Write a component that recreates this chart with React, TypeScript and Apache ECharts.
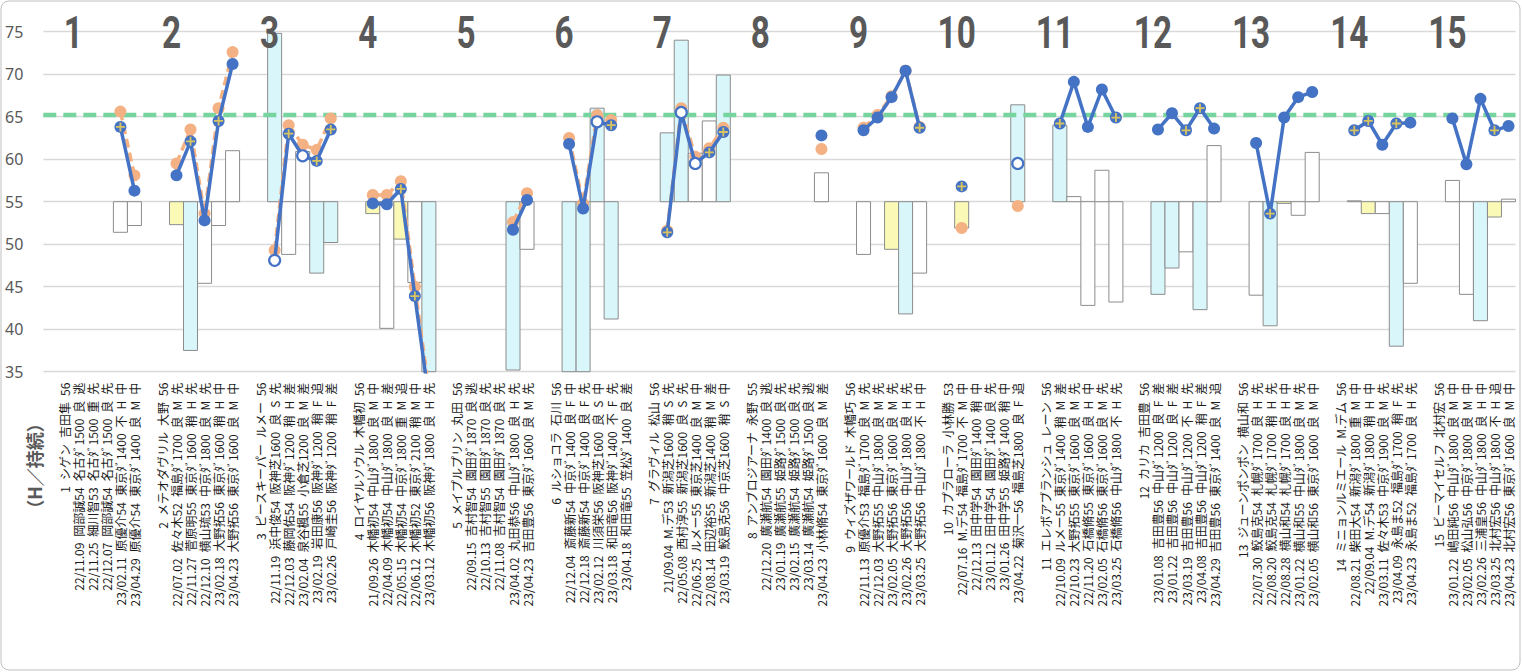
import React, { useEffect, useRef } from 'react';
import * as echarts from 'echarts';

// ---- data ----
const groupNumbers = ['1','2','3','4','5','6','7','8','9','10','11','12','13','14','15'];

const headers = [
  '1 シゲン 吉田隼 56',
  '2 メテオダヴリル 大野 56',
  '3 ピースキーパー ルメー 56',
  '4 ロイヤルソウル 木幡初 56',
  '5 メイプルプリン 丸田 56',
  '6 ルショコラ 石川 56',
  '7 グラヴィル 松山 56',
  '8 アンブロジアーナ 永野 55',
  '9 ウィズザワールド 木幡巧 56',
  '10 カプラローラ 小林勝 53',
  '11 エレボアブランシュ レーン 56',
  '12 カリカ 吉田豊 56',
  '13 ジューンポンポン 横山和 56',
  '14 ミニョンルミエール M.デム 56',
  '15 ビーマイセルフ 北村宏 56',
];

const raceLabels = [
  ['22/11.09 岡部誠54 名古ﾀﾞ1500 良 逃', '22/11.25 細川智53 名古ﾀﾞ1500 重 先', '22/12.07 岡部誠54 名古ﾀﾞ1500 良 先', '23/02.11 原優介54 東京ﾀﾞ1400 不 H 中', '23/04.29 原優介54 東京ﾀﾞ1400 良 M 中'],
  ['22/07.02 佐々木52 福島ﾀﾞ1700 良 M 先', '22/11.27 菅原明55 東京ﾀﾞ1600 稍 H 先', '22/12.10 横山琉53 中京ﾀﾞ1800 良 M 先', '23/02.18 大野拓56 東京ﾀﾞ1600 稍 H 中', '23/04.23 大野拓56 東京ﾀﾞ1600 良 M 中'],
  ['22/11.19 浜中俊54 阪神芝1600 良 S 先', '22/12.03 藤岡佑54 阪神ﾀﾞ1200 稍 H 差', '23/02.04 泉谷楓55 小倉芝1200 良 M 差', '23/02.19 岩田康56 阪神ﾀﾞ1200 稍 F 追', '23/02.26 戸崎圭56 阪神ﾀﾞ1200 稍 F 差'],
  ['21/09.26 木幡初54 中山ﾀﾞ1800 良 M 中', '22/04.09 木幡初54 中山ﾀﾞ1800 良 H 差', '22/05.15 木幡初54 中京ﾀﾞ1800 重 M 追', '22/06.12 木幡初52 東京ﾀﾞ2100 稍 M 中', '23/03.12 木幡初56 阪神ﾀﾞ1800 良 H 先'],
  ['22/09.15 吉村智54 園田ﾀﾞ1870 良 逃', '22/10.13 吉村智55 園田ﾀﾞ1870 良 先', '22/11.08 吉村智54 園田ﾀﾞ1870 良 先', '23/04.02 丸田恭56 中山ﾀﾞ1800 良 H 先', '23/04.23 吉田豊56 東京ﾀﾞ1600 良 M 先'],
  ['22/12.04 斎藤新54 中京ﾀﾞ1400 良 F 中', '22/12.18 斎藤新54 中京ﾀﾞ1400 良 F 先', '23/02.12 川須栄56 阪神芝1600 良 S 中', '23/03.18 和田竜56 阪神ﾀﾞ1400 不 F 先', '23/04.18 和田竜55 笠松ﾀﾞ1400 良 差'],
  ['21/09.04 M.デ53 新潟芝1600 稍 S 先', '22/05.08 西村淳55 新潟芝1600 良 S 先', '22/06.25 ルメー55 東京芝1400 良 M 中', '22/08.14 田辺裕55 新潟芝1400 稍 M 差', '23/03.19 鮫島克56 中京芝1600 稍 S 中'],
  ['22/12.20 廣瀬航54 園田ﾀﾞ1400 良 逃', '23/01.19 廣瀬航55 姫路ﾀﾞ1500 良 先', '23/02.15 廣瀬航54 姫路ﾀﾞ1500 良 先', '23/03.14 廣瀬航54 姫路ﾀﾞ1500 良 逃', '23/04.23 小林脩54 東京ﾀﾞ1600 良 M 差'],
  ['22/11.13 原優介53 福島ﾀﾞ1700 良 M 先', '22/12.03 大野拓55 中山ﾀﾞ1800 良 M 先', '23/02.05 大野拓56 東京ﾀﾞ1600 良 M 先', '23/02.26 大野拓56 中山ﾀﾞ1800 良 H 先', '23/03.25 大野拓56 中山ﾀﾞ1800 不 H 中'],
  ['22/07.16 M.デ54 福島ﾀﾞ1700 不 M 中', '22/12.13 田中学54 園田ﾀﾞ1400 稍 中', '23/01.12 田中学54 園田ﾀﾞ1400 良 先', '23/01.26 田中学55 姫路ﾀﾞ1400 稍 中', '23/04.22 菊沢一56 福島芝1800 良 F 追'],
  ['22/10.09 ルメー55 東京ﾀﾞ1400 稍 M 差', '22/10.23 大野拓55 東京ﾀﾞ1600 良 M 先', '22/11.20 石橋脩55 東京ﾀﾞ1600 良 H 中', '23/02.05 石橋脩56 東京ﾀﾞ1600 良 M 先', '23/03.25 石橋脩56 中山ﾀﾞ1800 不 H 先'],
  ['23/01.08 吉田豊56 中山ﾀﾞ1200 良 F 差', '23/01.22 吉田豊56 中山ﾀﾞ1200 良 F 差', '23/03.19 吉田豊56 中山ﾀﾞ1200 不 H 先', '23/04.08 吉田豊56 中山ﾀﾞ1200 稍 F 差', '23/04.29 吉田豊56 東京ﾀﾞ1400 良 M 追'],
  ['22/07.30 鮫島克54 札幌ﾀﾞ1700 良 H 先', '22/08.20 鮫島克54 札幌ﾀﾞ1700 稍 H 先', '22/08.28 横山和54 札幌ﾀﾞ1700 良 H 中', '23/01.22 横山和55 中山ﾀﾞ1800 良 M 先', '23/02.05 横山和56 東京ﾀﾞ1600 良 M 中'],
  ['22/08.21 柴田大54 新潟ﾀﾞ1800 重 M 中', '22/09.04 M.デ54 新潟ﾀﾞ1800 稍 H 中', '23/03.11 佐々木53 中京ﾀﾞ1900 良 M 先', '23/04.09 永島ま52 福島ﾀﾞ1700 稍 F 先', '23/04.23 永島ま52 福島ﾀﾞ1700 良 H 先'],
  ['23/01.22 嶋田純56 中山ﾀﾞ1800 良 M 中', '23/02.05 松山弘56 中京ﾀﾞ1800 良 M 中', '23/02.26 三浦皇56 中山ﾀﾞ1800 良 H 中', '23/03.25 北村宏56 中山ﾀﾞ1800 不 H 追', '23/04.23 北村宏56 東京ﾀﾞ1600 良 M 中'],
];

const blueVals = [
  [null, null, null, 63.8, 56.3],
  [58.1, 62.1, 52.8, 64.5, 71.2],
  [48.1, 63.0, 60.4, 59.8, 63.5],
  [54.8, 54.7, 56.5, 43.9, 31.8],
  [null, null, null, 51.7, 55.2],
  [61.8, 54.2, 64.4, 64.0, null],
  [51.4, 65.5, 59.5, 60.8, 63.2],
  [null, null, null, null, 62.8],
  [63.4, 64.9, 67.3, 70.4, 63.7],
  [56.8, null, null, null, 59.5],
  [64.2, 69.1, 63.8, 68.2, 64.9],
  [63.5, 65.4, 63.4, 66.0, 63.6],
  [61.9, 53.6, 64.9, 67.3, 67.9],
  [63.4, 64.5, 61.7, 64.2, 64.3],
  [64.8, 59.4, 67.1, 63.4, 63.9],
];

// S = solid, P = plus, H = hollow
const markerKinds = ['---PS', 'SPSPS', 'HPHPP', 'SSPPS', '---SS', 'SSHP-', 'PHHPP', '----S', 'SSSSP', 'P---H', 'PSSSP', 'SSPPS', 'SPSSS', 'PPSPS', 'SSSPS'];

const orangeVals = [
  [null, null, null, 65.6, 58.1],
  [59.5, 63.5, 53.6, 66.0, 72.6],
  [49.3, 64.0, 61.7, 61.1, 64.8],
  [55.8, 55.8, 57.4, 45.0, 32.8],
  [null, null, null, 52.6, 56.0],
  [62.5, 54.8, 65.2, 64.6, null],
  [51.6, 66.0, 60.3, 61.3, 63.7],
  [null, null, null, null, 61.2],
  [63.7, 65.2, 67.4, 70.4, 63.8],
  [51.9, null, null, null, 54.5],
  [null, null, null, null, null],
  [null, null, null, null, null],
  [null, null, null, null, null],
  [null, null, null, null, null],
  [null, null, null, null, null],
];

const barVals = [
  [null, null, null, 51.4, 52.2],
  [52.3, 37.5, 45.4, 52.2, 61.0],
  [74.8, 48.8, 60.9, 46.6, 50.2],
  [53.6, 40.1, 50.6, 45.5, 30.0],
  [null, null, null, 35.2, 49.4],
  [30.0, 30.0, 66.0, 41.2, null],
  [63.1, 74.0, 60.7, 64.5, 69.9],
  [null, null, null, null, 58.4],
  [48.8, null, 49.4, 41.8, 46.6],
  [51.9, null, null, null, 66.4],
  [64.0, 55.6, 42.8, 58.7, 43.2],
  [44.1, 47.2, 49.1, 42.3, 61.6],
  [44.0, 40.4, 54.8, 53.4, 60.8],
  [55.1, 53.6, 53.6, 38.0, 45.4],
  [57.5, 44.1, 41.0, 53.2, 55.3],
];

// C = cyan, W = white, Y = yellow
const barKinds = ['---WW', 'YCWWW', 'CWWCC', 'YWYWC', '---CW', 'CCCC-', 'CCWWC', '----W', 'W-YCW', 'Y---C', 'CWWWW', 'CCWCW', 'WCYWW', 'WYWCW', 'WWCYW'];

const barBase = 55;
const standardValue = 65.2;
const numberRowValue = 75;
const yMin = 35;
const yMax = 78;
const yInterval = 5;
const axisTitle = '（H／持続）';

// ---- build ----
const SLOTS = 7;
const SP = '\u2002';
const spaced = (s: string) => s.split(' ').join(SP);
const categories: string[] = [];
headers.forEach((h, k) => {
  categories.push('');
  categories.push(spaced(h));
  raceLabels[k].forEach((r) => categories.push(spaced(r)));
});
const idxOf = (k: number, j: number) => k * SLOTS + 2 + j;

const BLUE = '#4472c4';
const ORANGE = '#f4b183';

const blueData: any[] = categories.map(() => '-');
const orangeData: any[] = categories.map(() => '-');
const plusData: any[] = [];
const barData: any[] = [];
const kindCode: Record<string, number> = { C: 0, W: 1, Y: 2 };
const barFill = ['#d9f6fb', '#ffffff', '#fafab6'];

for (let k = 0; k < headers.length; k++) {
  for (let j = 0; j < 5; j++) {
    const i = idxOf(k, j);
    const b = blueVals[k][j];
    const mk = markerKinds[k][j];
    if (b !== null) {
      if (mk === 'H') {
        blueData[i] = { value: b, symbolSize: 11, itemStyle: { color: '#ffffff', borderColor: BLUE, borderWidth: 2.2 } };
      } else {
        blueData[i] = { value: b, symbolSize: 12, itemStyle: { color: BLUE, borderWidth: 0 } };
      }
      if (mk === 'P') plusData.push([i, b]);
    }
    const o = orangeVals[k][j];
    if (o !== null) orangeData[i] = o;
    const bv = barVals[k][j];
    if (bv !== null) barData.push([i, bv, kindCode[barKinds[k][j]]]);
  }
}

const numberData = groupNumbers.map((n, k) => [k * SLOTS + 2, numberRowValue]);

const splitColors = [] as string[];
for (let v = yMin; v <= yMax; v += yInterval) splitColors.push('#d9d9d9');
splitColors.push('rgba(0,0,0,0)');

const PLUS_PATH = 'path://M4 0h2v4h4v2h-4v4h-2v-4h-4v-2h4z';

export default function App() {
  const ref = useRef<HTMLDivElement>(null);
  useEffect(() => {
    if (!ref.current) return;
    const chart = echarts.init(ref.current, undefined, { renderer: 'svg' });
    const option: any = {
      animation: false,
      backgroundColor: '#ffffff',
      grid: { left: 43.3, right: 6.5, top: 6.2, bottom: 300.3, containLabel: false },
      xAxis: [
        {
          type: 'category',
          data: categories,
          boundaryGap: true,
          axisLine: { show: false },
          axisTick: { show: false },
          splitLine: { show: false },
          axisLabel: {
            interval: 0,
            rotate: 90,
            margin: 11,
            fontSize: 12,
            padding: [7, 0, 0, 0],
            color: '#1a1a1a',
            fontFamily: '"Noto Sans CJK JP", sans-serif',
          },
        },
        { type: 'value', min: 0, max: 1, show: false },
      ],
      yAxis: {
        type: 'value',
        min: yMin,
        max: yMax,
        interval: yInterval,
        axisLine: { show: false },
        axisTick: { show: false },
        axisLabel: {
          margin: 20,
          fontSize: 16,
          color: '#595959',
          fontFamily: '"Noto Sans", sans-serif',
          formatter: (v: number) => (v === yMax ? '' : String(v)),
        },
        splitLine: { show: true, lineStyle: { color: splitColors, width: 1.3 } },
      },
      graphic: [
        {
          type: 'rect',
          shape: { x: 1, y: 1, width: 1519, height: 669, r: 8 },
          style: { fill: 'none', stroke: '#bfbfbf', lineWidth: 1 },
          silent: true,
          z: -1,
        },
        {
          type: 'text',
          x: 34,
          y: 466,
          rotation: Math.PI / 2,
          style: {
            text: axisTitle,
            fill: '#595959',
            font: 'bold 18px "Noto Sans CJK JP", sans-serif',
            align: 'center',
            verticalAlign: 'middle',
          },
        },
      ],
      series: [
        {
          type: 'custom',
          name: 'bars',
          data: barData,
          encode: { x: 0, y: 1 },
          renderItem: (params: any, api: any) => {
            const x = api.value(0);
            const v = api.value(1);
            const kind = api.value(2);
            const p0 = api.coord([x, barBase]);
            const p1 = api.coord([x, v]);
            const w = api.size([1, 0])[0];
            const rect = echarts.graphic.clipRectByRect(
              { x: p0[0] - w / 2, y: Math.min(p0[1], p1[1]), width: w, height: Math.abs(p0[1] - p1[1]) },
              { x: params.coordSys.x, y: params.coordSys.y, width: params.coordSys.width, height: params.coordSys.height }
            );
            if (!rect) return null;
            return {
              type: 'rect',
              shape: rect,
              style: { fill: barFill[kind], stroke: '#8c8c8c', lineWidth: 1 },
            };
          },
          z: 1,
        },
        {
          type: 'line',
          name: 'standard',
          xAxisIndex: 1,
          data: [[0, standardValue], [1, standardValue]],
          symbol: 'none',
          lineStyle: { color: '#76d49e', width: 4.5, type: [13, 7] },
          silent: true,
          z: 2,
        },
        {
          type: 'line',
          name: 'orange',
          data: orangeData,
          connectNulls: false,
          symbol: 'circle',
          symbolSize: 12,
          showAllSymbol: true,
          itemStyle: { color: ORANGE },
          lineStyle: { color: ORANGE, width: 3.5, type: [9, 5] },
          z: 3,
        },
        {
          type: 'line',
          name: 'blue',
          data: blueData,
          connectNulls: false,
          symbol: 'circle',
          symbolSize: 12,
          showAllSymbol: true,
          itemStyle: { color: BLUE },
          lineStyle: { color: BLUE, width: 3.5 },
          z: 4,
        },
        {
          type: 'scatter',
          name: 'plus',
          data: plusData,
          symbol: PLUS_PATH,
          symbolSize: 9,
          itemStyle: { color: '#ffd84a' },
          z: 5,
        },
        {
          type: 'custom',
          name: 'groups',
          data: numberData,
          encode: { x: 0, y: 1 },
          renderItem: (params: any, api: any) => {
            const p = api.coord([api.value(0), api.value(1)]);
            return {
              type: 'text',
              x: p[0] - 5,
              y: p[1] + 1,
              scaleX: 0.74,
              style: {
                text: groupNumbers[params.dataIndex],
                font: 'bold 45px Roboto, "DejaVu Sans", sans-serif',
                fill: '#595959',
                align: 'center',
                verticalAlign: 'middle',
              },
            };
          },
          z: 6,
        },
      ],
    };
    chart.setOption(option);
    return () => chart.dispose();
  }, []);
  return (
    <div
      ref={ref}
      style={{ position: 'fixed', left: 0, top: 0, width: 1522, height: 672, background: '#fff' }}
    />
  );
}
